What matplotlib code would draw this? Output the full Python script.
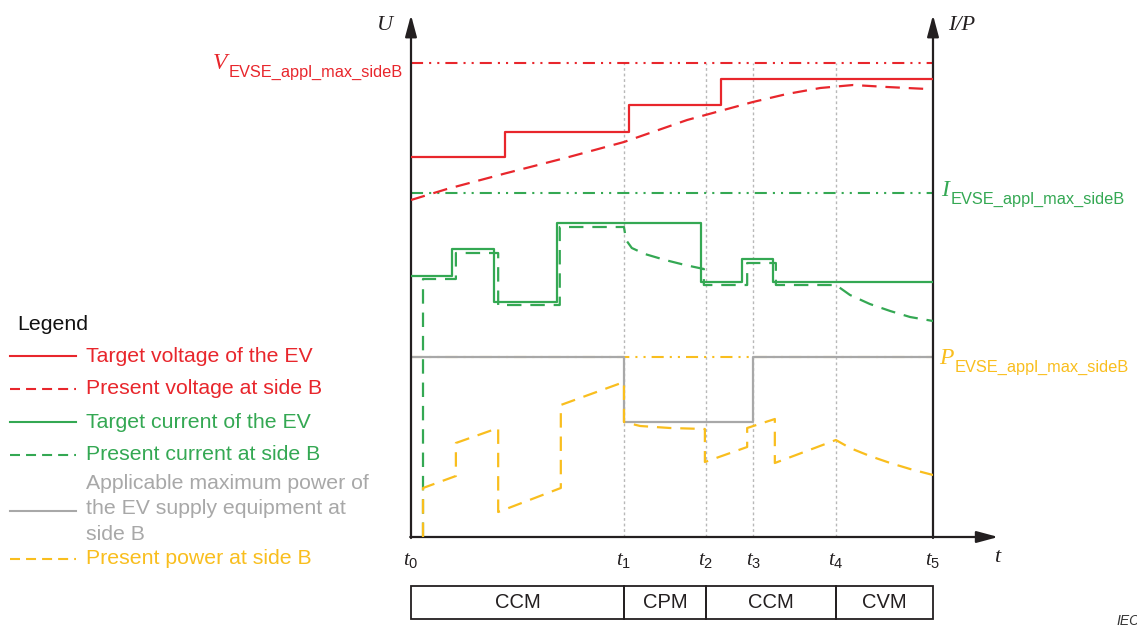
import matplotlib
matplotlib.use('Agg')
import matplotlib.pyplot as plt
from matplotlib.patches import Rectangle

plt.rcParams['font.family'] = ['Liberation Sans', 'DejaVu Sans']
plt.rcParams['mathtext.fontset'] = 'custom'
plt.rcParams['mathtext.it'] = 'Liberation Serif:italic'
plt.rcParams['mathtext.rm'] = 'Liberation Sans'

# ---- data (time: left axis = 0, t5 = 100; values: bottom axis = 0) ----
t_marks = [0, 40.8, 56.5, 65.6, 81.4, 100]
modes = ['CCM', 'CPM', 'CCM', 'CVM']
mode_edges = [0, 40.8, 56.5, 81.4, 100]

v_max = 94.8
i_max = 68.8
p_max = 36.0

# target voltage of the EV (steps)
v_target_t = [0, 18.0, 41.8, 59.4, 100]
v_target = [76.0, 81.0, 86.4, 91.6, 91.6]

# present voltage at side B
v_present_t = [0, 6.9, 18.0, 29.9, 40.8, 52.9, 65.5, 72.0, 78.4, 84.7, 91.2, 98.9]
v_present = [67.4, 69.6, 72.7, 75.9, 79.0, 83.4, 87.0, 88.6, 89.8, 90.4, 90.0, 89.6]

# target current of the EV (steps)
i_target_t = [0, 7.9, 15.9, 28.0, 55.6, 63.4, 69.3, 100]
i_target = [52.2, 57.6, 47.0, 62.8, 51.0, 55.6, 51.0, 51.0]

# present current at side B
i_present_t = [2.3, 2.3, 8.6, 8.6, 16.7, 16.7, 28.5, 28.5, 40.8, 41.2, 42.3, 44.8,
               48.7, 52.5, 56.1, 56.1, 64.4, 64.4, 69.9, 69.9, 81.4, 84.1, 87.9,
               91.8, 95.6, 100]
i_present = [0, 51.6, 51.6, 56.8, 56.8, 46.4, 46.4, 62.0, 62.0, 59.4, 57.8, 56.6,
             55.4, 54.4, 53.6, 50.4, 50.4, 54.8, 54.8, 50.4, 50.4, 48.4, 46.6,
             45.2, 44.0, 43.2]

# applicable maximum power of the EVSE (steps)
p_appl_t = [0, 40.8, 65.6, 100]
p_appl = [36.0, 23.0, 36.0, 36.0]

# present power at side B
p_present_t = [2.3, 2.3, 8.6, 8.6, 16.7, 16.7, 28.7, 28.7, 40.8, 40.8, 43.9, 49.6,
               56.3, 56.3, 64.4, 64.4, 69.7, 69.7, 81.4, 84.1, 87.9, 91.8, 95.6, 100]
p_present = [0, 9.8, 12.2, 18.8, 21.8, 5.0, 9.8, 26.4, 31.0, 23.0, 22.2, 21.8,
             21.6, 15.0, 18.0, 21.8, 23.6, 14.8, 19.4, 17.8, 16.2, 14.8, 13.6, 12.4]

legend_labels = ['Target voltage of the EV', 'Present voltage at side B',
                 'Target current of the EV', 'Present current at side B',
                 'Applicable maximum power of\nthe EV supply equipment at\nside B',
                 'Present power at side B']

RED = '#E8262C'
GREEN = '#34A853'
GRAY = '#A8A8A8'
ORANGE = '#F9BE1E'
BLK = '#231F20'
DOTGRAY = '#B8B8B8'

dashed = (0, (6.5, 4))
dashdotdot = (0, (5.8, 2.9, 1, 2.9, 1, 2.9))

W, H = 1137, 626
fig = plt.figure(figsize=(W / 100, H / 100), dpi=100)

# overlay in pixel coordinates for legend and free labels
ov = fig.add_axes([0, 0, 1, 1])
ov.set_xlim(0, W)
ov.set_ylim(H, 0)
ov.axis('off')

# main plot area: x 0..100 -> px 411..933, y 0..100 -> px 537..37
x0, x1, yb, yt = 411, 933, 537, 37
ax = fig.add_axes([x0 / W, (H - yb) / H, (x1 - x0) / W, (yb - yt) / H])
ax.set_xlim(0, 100)
ax.set_ylim(0, 100)
ax.axis('off')

# dotted time markers
for t in t_marks[1:5]:
    ax.plot([t, t], [0, v_max], color=DOTGRAY, lw=1, ls=(0, (2, 2)), zorder=1)

# maximum limits
ax.plot([0, 100], [v_max, v_max], color=RED, lw=1.5, ls=dashdotdot, zorder=2)
ax.plot([0, 100], [i_max, i_max], color=GREEN, lw=1.5, ls=dashdotdot, zorder=2)
ax.plot([0, 100], [p_max, p_max], color=ORANGE, lw=1.5, ls=dashdotdot, zorder=2)

# curves
ax.plot(p_appl_t, p_appl, color=GRAY, lw=1.6, drawstyle='steps-post', zorder=3)
ax.plot(v_target_t, v_target, color=RED, lw=1.6, drawstyle='steps-post', zorder=4)
ax.plot(v_present_t, v_present, color=RED, lw=1.6, ls=dashed, zorder=4)
ax.plot(i_target_t, i_target, color=GREEN, lw=1.6, drawstyle='steps-post', zorder=4)
ax.plot(i_present_t, i_present, color=GREEN, lw=1.6, ls=dashed, zorder=4)
ax.plot(p_present_t, p_present, color=ORANGE, lw=1.6, ls=dashed, zorder=4)

# axes with arrows
arrow = dict(arrowstyle='-|>,head_length=1.3,head_width=0.35', lw=1.6,
             color=BLK, shrinkA=0, shrinkB=0, mutation_scale=10)
ax.annotate('', xy=(0, 104.4), xytext=(0, -0.2), arrowprops=arrow, annotation_clip=False)
ax.annotate('', xy=(100, 104.4), xytext=(100, -0.2), arrowprops=arrow, annotation_clip=False)
ax.annotate('', xy=(112.5, 0), xytext=(-0.15, 0), arrowprops=arrow, annotation_clip=False)

# time labels
for i, t in enumerate(t_marks):
    ax.text(t, -4.8, r'$t_{%d}$' % i, ha='center', va='center', fontsize=15, color=BLK)

# mode bar
for i, m in enumerate(modes):
    a, b = mode_edges[i], mode_edges[i + 1]
    ax.add_patch(Rectangle((a, -16.4), b - a, 6.6, fill=False, ec=BLK, lw=1.3, clip_on=False))
    ax.text((a + b) / 2, -13.1, m, ha='center', va='center', fontsize=14.5, color=BLK)

# axis names
serif_it = dict(family='Liberation Serif', style='italic', color=BLK, fontsize=16)
ov.text(385, 26, 'U', ha='center', va='center', **serif_it)
ov.text(948, 26, 'I/P', ha='left', va='center', **serif_it)
ov.text(997, 558, 't', ha='center', va='center', **serif_it)


def sub_label(x, y, letter, sub, color):
    txt = ov.text(x, y, letter, fontsize=17, family='Liberation Serif', style='italic',
                  color=color, va='baseline', ha='left')
    ov.annotate(sub, xy=(1, 0), xycoords=txt, xytext=(1, -4), textcoords='offset points',
                fontsize=11.8, color=color, va='bottom', ha='left')


sub_label(213, 69, 'V', 'EVSE_appl_max_sideB', RED)
sub_label(941, 196, 'I', 'EVSE_appl_max_sideB', GREEN)
sub_label(939, 364, 'P', 'EVSE_appl_max_sideB', ORANGE)

# legend
ov.text(17, 325, 'Legend', fontsize=15.3, color='#111111', va='center', ha='left')
leg_colors = [RED, RED, GREEN, GREEN, GRAY, ORANGE]
leg_styles = ['-', (0, (4.8, 2.9)), '-', (0, (4.8, 2.9)), '-', (0, (4.8, 2.9))]
leg_text_y = [356, 389, 422, 455, 509, 559]
leg_line_y = [356, 389, 422, 455, 511, 559]
for lab, c, s, ty, ly in zip(legend_labels, leg_colors, leg_styles, leg_text_y, leg_line_y):
    ov.plot([10, 76], [ly, ly], color=c, lw=1.5, ls=s)
    ov.text(86, ty, lab, fontsize=15.3, color=c, va='center', ha='left', linespacing=1.42)

ov.text(1116, 614, 'IEC', fontsize=10, style='italic', color='#333333', va='top', ha='left')

fig.savefig('out.png', dpi=100)
